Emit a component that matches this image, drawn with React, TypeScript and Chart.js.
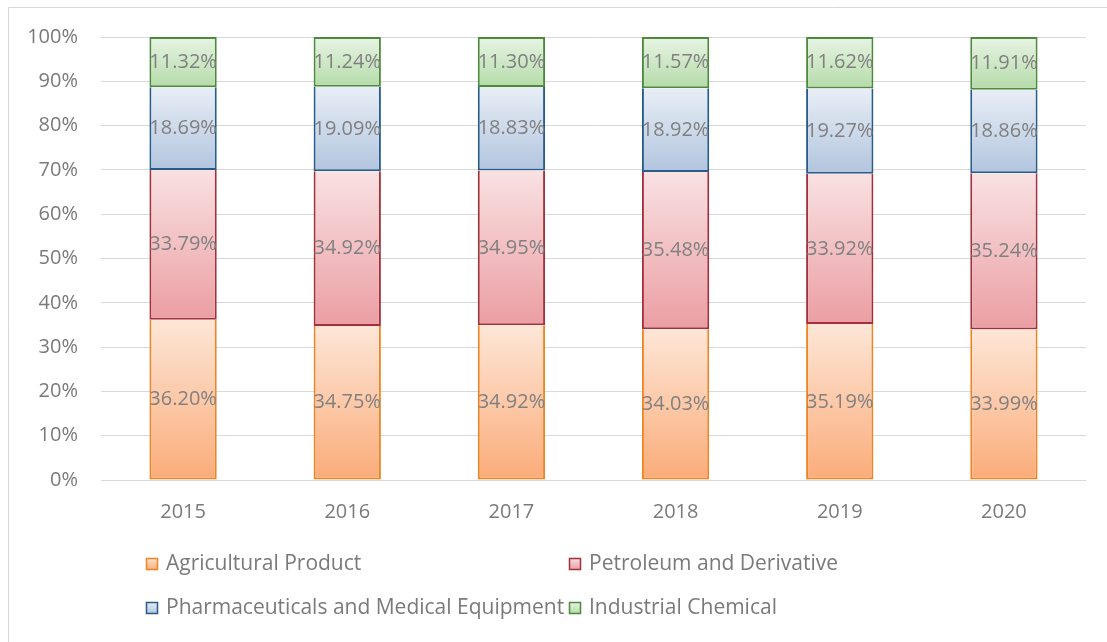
import React, { useEffect, useRef } from "react";
import { Chart, registerables } from "chart.js";

Chart.register(...registerables);

const categories = ["2015", "2016", "2017", "2018", "2019", "2020"];
const seriesNames = [
  "Agricultural Product",
  "Petroleum and Derivative",
  "Pharmaceuticals and Medical Equipment",
  "Industrial Chemical",
];
const agricultural = [36.2, 34.75, 34.92, 34.03, 35.19, 33.99];
const petroleum = [33.79, 34.92, 34.95, 35.48, 33.92, 35.24];
const pharma = [18.69, 19.09, 18.83, 18.92, 19.27, 18.86];
const chemical = [11.32, 11.24, 11.3, 11.57, 11.62, 11.91];
const seriesValues = [agricultural, petroleum, pharma, chemical];

const gradTop = ["#fde6d7", "#f9e1e2", "#e8eef6", "#e8f4e4"];
const gradBottom = ["#fbac79", "#eb9ea3", "#b2c5de", "#b4dba9"];
const borders = ["#ef8424", "#a3303b", "#265b8a", "#4d8a3e"];

const FONT = "'Open Sans', sans-serif";
const TEXT = "#7a7a7a";

export default function App() {
  const ref = useRef<HTMLCanvasElement | null>(null);

  useEffect(() => {
    if (!ref.current) return;

    const makeBg = (ds: number) => (ctx: any) => {
      const chart = ctx.chart;
      const y = chart.scales?.y;
      const i = ctx.dataIndex;
      if (!y || !chart.chartArea || i === undefined) return gradBottom[ds];
      let base = 0;
      for (let k = 0; k < ds; k++) base += seriesValues[k][i];
      const top = base + seriesValues[ds][i];
      const g = chart.ctx.createLinearGradient(0, y.getPixelForValue(top), 0, y.getPixelForValue(base));
      g.addColorStop(0, gradTop[ds]);
      g.addColorStop(1, gradBottom[ds]);
      return g;
    };

    const labelsPlugin = {
      id: "segLabels",
      afterDatasetsDraw(chart: any) {
        const c = chart.ctx;
        c.save();
        c.font = `20px ${FONT}`;
        c.fillStyle = "#808080";
        c.textAlign = "center";
        c.textBaseline = "middle";
        chart.data.datasets.forEach((d: any, di: number) => {
          const meta = chart.getDatasetMeta(di);
          meta.data.forEach((el: any, i: number) => {
            const yc = (el.y + el.base) / 2;
            c.fillText(d.data[i].toFixed(2) + "%", el.x, yc);
          });
        });
        c.restore();
      },
    };

    const legendPlugin = {
      id: "customLegend",
      afterDraw(chart: any) {
        const c = chart.ctx;
        c.save();
        // frame
        c.strokeStyle = "#d9d9d9";
        c.lineWidth = 1;
        c.beginPath();
        c.moveTo(8.5, 642);
        c.lineTo(8.5, 7.5);
        c.lineTo(1107, 7.5);
        c.stroke();

        const pos = [
          [146, 564],
          [569, 564],
          [146, 608],
          [569, 608],
        ];
        c.font = `21px ${FONT}`;
        c.textBaseline = "middle";
        c.textAlign = "left";
        seriesNames.forEach((name, k) => {
          const [x, y] = pos[k];
          const g = c.createLinearGradient(0, y - 6, 0, y + 6);
          g.addColorStop(0, gradTop[k]);
          g.addColorStop(1, gradBottom[k]);
          c.fillStyle = g;
          c.fillRect(x, y - 6, 12, 12);
          c.strokeStyle = borders[k];
          c.lineWidth = 1.5;
          c.strokeRect(x + 0.5, y - 5.5, 11, 11);
          c.fillStyle = TEXT;
          c.fillText(name, x + 20, y);
        });
        c.restore();
      },
    };

    const chart = new Chart(ref.current, {
      type: "bar",
      data: {
        labels: categories,
        datasets: seriesValues.map((vals, k) => ({
          label: seriesNames[k],
          data: vals,
          backgroundColor: makeBg(k),
          borderColor: borders[k],
          borderWidth: 2,
          borderSkipped: k === 3 ? false : "top",
          categoryPercentage: 1,
          barPercentage: 0.41,
        })) as any,
      },
      options: {
        responsive: false,
        animation: false,
        layout: { padding: { left: 0, right: 21, top: 37, bottom: 112 } },
        plugins: {
          legend: { display: false },
          tooltip: { enabled: false },
        },
        scales: {
          x: {
            stacked: true,
            grid: { display: false },
            border: { display: false },
            ticks: { color: TEXT, font: { family: FONT, size: 20 }, padding: 12 },
            afterFit: (s: any) => {
              s.height = 50;
            },
          },
          y: {
            stacked: true,
            min: 0,
            max: 100,
            grid: { color: "#d9d9d9", drawTicks: false },
            border: { display: false },
            ticks: {
              stepSize: 10,
              color: TEXT,
              font: { family: FONT, size: 20 },
              padding: 23,
              callback: (v: any) => v + "%",
            },
            afterFit: (s: any) => {
              s.width = 101;
            },
          },
        },
      },
      plugins: [labelsPlugin, legendPlugin],
    });
    return () => chart.destroy();
  }, []);

  return (
    <div style={{ position: "absolute", left: 0, top: 0, width: 1107, height: 642, background: "#fff" }}>
      <canvas ref={ref} width={1107} height={642} style={{ display: "block" }} />
    </div>
  );
}
